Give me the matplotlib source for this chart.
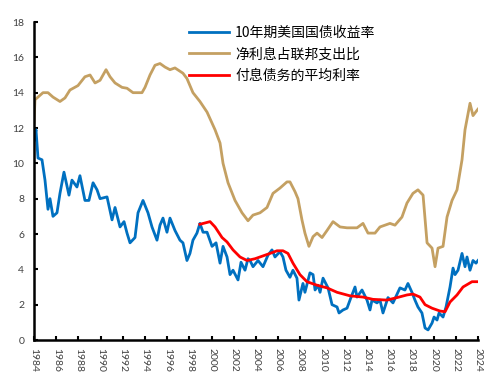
import matplotlib
matplotlib.use("Agg")
import matplotlib.pyplot as plt

# 10-year Treasury yield (decimal year, %)
t10_years = [1984.0, 1984.18, 1984.36, 1984.72, 1984.99, 1985.26, 1985.44, 1985.71, 1986.07, 1986.34,
             1986.70, 1987.15, 1987.42, 1987.87, 1988.14, 1988.59, 1988.95, 1989.32, 1989.68, 1989.95,
             1990.58, 1991.03, 1991.30, 1991.75, 1992.11, 1992.38, 1992.65, 1993.10, 1993.37, 1993.82,
             1994.27, 1994.63, 1995.08, 1995.35, 1995.62, 1995.98, 1996.25, 1996.70, 1997.15, 1997.42,
             1997.78, 1998.05, 1998.32, 1998.68, 1998.95, 1999.23, 1999.59, 2000.04, 2000.40, 2000.76,
             2001.03, 2001.39, 2001.66, 2001.93, 2002.38, 2002.65, 2003.01, 2003.28, 2003.46, 2003.73,
             2004.18, 2004.63, 2005.08, 2005.44, 2005.71, 2006.16, 2006.43, 2006.70, 2007.06, 2007.33,
             2007.69, 2007.87, 2008.23, 2008.41, 2008.86, 2009.14, 2009.32, 2009.59, 2009.77, 2010.04,
             2010.49, 2010.85, 2011.30, 2011.48, 2011.84, 2012.20, 2012.47, 2012.92, 2013.10, 2013.55,
             2014.00, 2014.27, 2014.45, 2014.90, 2015.17, 2015.44, 2015.89, 2016.34, 2016.97, 2017.42,
             2017.69, 2018.05, 2018.32, 2018.59, 2018.95, 2019.23, 2019.50, 2019.86, 2020.04, 2020.31,
             2020.49, 2020.85, 2021.12, 2021.48, 2021.75, 2021.93, 2022.20, 2022.56, 2022.83, 2023.01,
             2023.28, 2023.55, 2023.82, 2024.0]
t10_values = [11.3, 11.9, 10.3, 10.2, 9.05, 7.4, 8.0, 7.0, 7.2, 8.3,
              9.5, 8.2, 9.05, 8.66, 9.3, 7.9, 7.9, 8.9, 8.5, 8.0,
              8.1, 6.8, 7.5, 6.4, 6.7, 6.05, 5.5, 5.8, 7.2, 7.9,
              7.2, 6.4, 5.65, 6.5, 6.9, 6.1, 6.9, 6.2, 5.65, 5.5,
              4.5, 4.9, 5.65, 6.05, 6.6, 6.1, 6.1, 5.3, 5.5, 4.35,
              5.3, 4.7, 3.7, 3.95, 3.4, 4.4, 3.95, 4.6, 4.5, 4.15,
              4.5, 4.15, 4.8, 5.1, 4.7, 5.0, 4.7, 3.95, 3.55, 3.95,
              3.5, 2.26, 3.2, 2.7, 3.8, 3.7, 2.83, 3.1, 2.7, 3.5,
              2.95, 2.0, 1.87, 1.53, 1.7, 1.8, 2.26, 3.0, 2.43, 2.83,
              2.26, 1.7, 2.26, 2.1, 2.26, 1.53, 2.4, 2.1, 2.95, 2.83,
              3.2, 2.7, 2.26, 1.87, 1.53, 0.68, 0.57, 0.96, 1.3, 1.13,
              1.53, 1.3, 1.87, 3.0, 4.07, 3.7, 3.95, 4.9, 4.15, 4.7,
              3.95, 4.5, 4.35, 4.5]

# Net interest as share of federal outlays (%)
ni_years = [1984.0, 1984.09, 1984.36, 1984.81, 1985.26, 1985.71, 1986.34, 1986.79, 1987.24, 1987.96,
            1988.59, 1989.05, 1989.50, 1989.95, 1990.49, 1990.85, 1991.30, 1991.93, 1992.38, 1992.92,
            1993.73, 1994.00, 1994.45, 1994.90, 1995.35, 1995.80, 1996.25, 1996.70, 1997.42, 1997.78,
            1998.32, 1998.95, 1999.59, 2000.31, 2000.76, 2001.03, 2001.48, 2002.11, 2002.74, 2003.28,
            2003.73, 2004.36, 2004.99, 2005.53, 2006.16, 2006.79, 2007.06, 2007.51, 2007.78, 2008.14,
            2008.41, 2008.77, 2009.14, 2009.50, 2009.95, 2010.40, 2010.94, 2011.57, 2012.20, 2013.10,
            2013.64, 2014.09, 2014.72, 2015.17, 2016.07, 2016.52, 2017.15, 2017.60, 2018.14, 2018.59,
            2019.05, 2019.41, 2019.86, 2020.13, 2020.40, 2020.85, 2021.21, 2021.66, 2022.11, 2022.56,
            2022.83, 2023.28, 2023.55, 2023.91, 2024.0]
ni_values = [12.3, 13.6, 13.75, 14.0, 14.0, 13.75, 13.5, 13.7, 14.15, 14.4,
             14.9, 15.0, 14.55, 14.7, 15.3, 14.9, 14.55, 14.3, 14.25, 14.0,
             14.0, 14.3, 15.0, 15.55, 15.65, 15.45, 15.3, 15.4, 15.1, 14.8,
             14.0, 13.5, 12.9, 11.9, 11.15, 10.0, 8.9, 7.9, 7.2, 6.75,
             7.07, 7.2, 7.5, 8.3, 8.6, 8.95, 8.95, 8.4, 8.0, 6.8,
             6.05, 5.3, 5.85, 6.05, 5.8, 6.2, 6.7, 6.4, 6.35, 6.35,
             6.6, 6.05, 6.05, 6.4, 6.6, 6.5, 6.96, 7.75, 8.3, 8.5,
             8.2, 5.5, 5.2, 4.15, 5.2, 5.3, 6.96, 7.9, 8.5, 10.2,
             11.9, 13.4, 12.7, 13.0, 13.07]

# Average interest rate on interest-bearing debt (%)
avg_years = [1998.95, 1999.86, 2000.31, 2000.94, 2001.39, 2001.93, 2002.56, 2003.19, 2003.91, 2004.36,
             2005.26, 2005.89, 2006.43, 2006.88, 2007.33, 2007.96, 2008.59, 2009.50, 2010.40, 2011.30,
             2012.47, 2013.64, 2014.54, 2015.80, 2016.70, 2017.60, 2018.14, 2018.77, 2019.23, 2019.86,
             2020.58, 2021.03, 2021.48, 2022.11, 2022.65, 2023.46, 2023.91]
avg_values = [6.55, 6.7, 6.4, 5.8, 5.55, 5.1, 4.7, 4.5, 4.6, 4.7,
              4.9, 5.05, 5.05, 4.9, 4.35, 3.7, 3.3, 3.1, 2.95, 2.7,
              2.5, 2.43, 2.3, 2.26, 2.4, 2.55, 2.6, 2.43, 2.0, 1.8,
              1.64, 1.6, 2.15, 2.55, 3.0, 3.3, 3.3]

labels = ["10年期美国国债收益率", "净利息占联邦支出比", "付息债务的平均利率"]
x_ticks = list(range(1984, 2025, 2))
y_ticks = list(range(0, 19, 2))

plt.rcParams['font.family'] = ['Lato', 'Noto Sans CJK SC', 'DejaVu Sans']

fig = plt.figure(figsize=(5.04, 3.92), dpi=100)
ax = fig.add_axes([34/504, 52/392, 444/504, 318/392])

ax.plot(t10_years, t10_values, color='#0070C0', lw=2.0, label=labels[0])
ax.plot(ni_years, ni_values, color='#C4A062', lw=2.0, label=labels[1])
ax.plot(avg_years, avg_values, color='#FF0000', lw=2.0, label=labels[2])

ax.set_xlim(1984, 2024)
ax.set_ylim(0, 18)
ax.set_xticks(x_ticks)
ax.set_xticklabels([str(v) for v in x_ticks], rotation=270, fontsize=7.5, color='#404040')
ax.set_yticks(y_ticks)
ax.set_yticklabels([str(v) for v in y_ticks], fontsize=7.5, color='#404040')
ax.tick_params(axis='both', direction='in', length=3, width=1.5, color='black')
ax.tick_params(axis='y', pad=7)
ax.tick_params(axis='x', pad=6)

for s in ['top', 'right']:
    ax.spines[s].set_visible(False)
for s in ['left', 'bottom']:
    ax.spines[s].set_linewidth(1.8)
    ax.spines[s].set_color('black')

leg = ax.legend(loc='upper left', bbox_to_anchor=(176/504, 1 - 13/392), bbox_transform=fig.transFigure,
                frameon=False, handlelength=2.9, handletextpad=0.45, labelspacing=0.55,
                prop={'family': ['Noto Sans CJK SC', 'DejaVu Sans'], 'size': 10})

fig.savefig('out.png', dpi=100)
